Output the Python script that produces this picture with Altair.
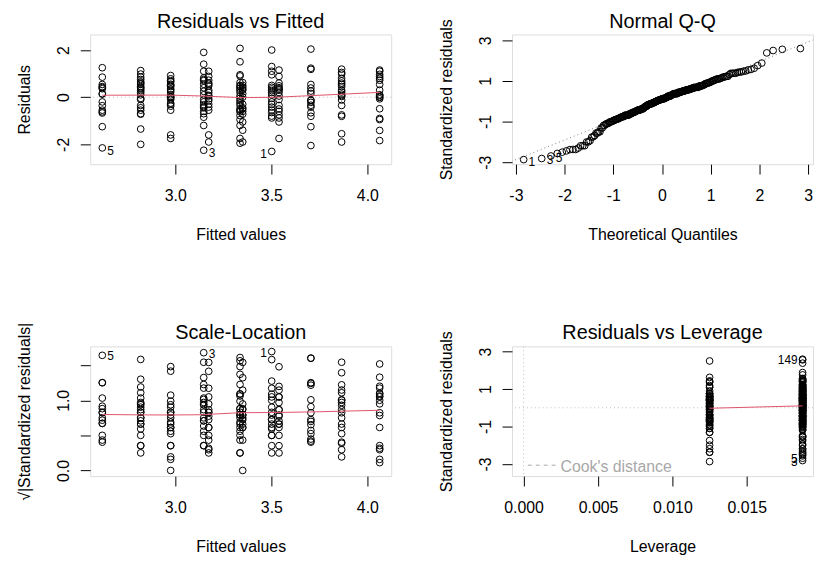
import altair as alt
import pandas as pd
import numpy as np

# ---- data (lm diagnostics) ----
fitted_levels = [2.62, 2.82, 2.976, 3.148, 3.174, 3.337, 3.351, 3.502, 3.54, 3.706, 3.866, 4.064]
leverage_levels = [0.01875, 0.01875, 0.01875, 0.01875, 0.0125, 0.01875,
                   0.0125, 0.0125, 0.0125, 0.01875, 0.01875, 0.01875]
resid_groups = [
    [1.25, 0.85, 0.54, 0.45, 0.41, 0.36, 0.15, 0.13, -0.2, -0.36, -0.55, -0.62, -0.67, -1.25, -2.15],
    [1.13, 0.98, 0.85, 0.75, 0.65, 0.6, 0.55, 0.45, 0.4, 0.35, 0.28, 0.2, 0.1, -0.05, -0.1, -0.35, -0.45, -0.55, -0.7, -0.72, -1.35, -2.0],
    [0.92, 0.78, 0.7, 0.65, 0.55, 0.5, 0.45, 0.35, 0.3, 0.22, 0.1, 0.03, 0.0, -0.02, -0.1, -0.25, -0.3, -0.38, -0.55, -1.6, -1.75],
    [1.9, 1.4, 1.1, 0.82, 0.75, 0.7, 0.55, 0.4, 0.25, 0.1, -0.1, -0.2, -0.32, -0.4, -0.45, -0.6, -0.7, -0.85, -1.2, -2.25],
    [1.1, 0.88, 0.72, 0.6, 0.55, 0.48, 0.3, 0.2, 0.08, 0.05, -0.07, -0.15, -0.3, -0.42, -0.55, -1.6, -1.9],
    [2.07, 1.5, 0.95, 0.9, 0.62, 0.5, 0.45, 0.38, 0.3, 0.2, 0.05, -0.05, -0.15, -0.25, -0.35, -0.5, -0.55, -0.62, -0.78, -0.95, -1.2, -1.75, -1.95],
    [0.62, 0.5, 0.42, 0.35, 0.3, 0.15, 0.0, -0.3, -0.45, -0.5, -0.6, -0.72, -1.05, -1.4, -1.9],
    [2.0, 1.3, 1.1, 0.95, 0.5, 0.42, 0.35, 0.28, 0.2, 0.1, -0.05, -0.2, -0.3, -0.42, -0.55, -0.65, -0.8, -0.88, -2.3],
    [1.15, 0.88, 0.6, 0.48, 0.4, 0.35, 0.3, 0.2, 0.05, -0.1, -0.35, -0.5, -0.6, -0.75, -0.88, -1.05, -1.75],
    [2.04, 1.23, 1.18, 0.54, 0.39, 0.26, 0.16, -0.13, -0.14, -0.22, -0.34, -0.42, -0.66, -0.81, -1.25, -2.05],
    [1.19, 1.05, 0.98, 0.8, 0.69, 0.6, 0.54, 0.45, 0.3, 0.22, 0.13, 0.07, 0.03, -0.12, -0.35, -0.75, -0.81, -1.55, -1.9],
    [1.15, 1.1, 0.97, 0.88, 0.8, 0.72, 0.54, 0.3, 0.1, 0.08, 0.02, -0.01, -0.07, -0.49, -0.9, -0.95, -1.41, -1.84],
]
# observation numbers shown as labels: (group, position) -> id
labeled_obs = {(0, 14): "5", (3, 19): "3", (7, 18): "1", (5, 0): "149"}
resid_label_ids = ["1", "3", "5"]       # largest |residual|
cook_label_ids = ["149", "5", "3"]      # largest Cook's distance
sigma = 0.805                           # residual standard error
panel_titles = ["Residuals vs Fitted", "Normal Q-Q", "Scale-Location", "Residuals vs Leverage"]

rows = []
for g, (fv, hv, rs) in enumerate(zip(fitted_levels, leverage_levels, resid_groups)):
    for k, r in enumerate(rs):
        rows.append(dict(fitted=fv, lev=hv, resid=r, obs=labeled_obs.get((g, k), "")))
df = pd.DataFrame(rows)
df["std"] = df["resid"] / (sigma * np.sqrt(1 - df["lev"]))
df["sqrtstd"] = np.sqrt(np.abs(df["std"]))
df["lab_resid"] = np.where(df["obs"].isin(resid_label_ids), df["obs"], "")
df["lab_cook"] = np.where(df["obs"].isin(cook_label_ids), df["obs"], "")
mid_fit = (df["fitted"].min() + df["fitted"].max()) / 2
mid_lev = (df["lev"].min() + df["lev"].max()) / 2
df["fit_right"] = df["fitted"] < mid_fit
df["lev_right"] = df["lev"] < mid_lev


def lowess(x, y, f=2 / 3, iters=3):
    """Robust locally weighted regression, as R's lowess() used by panel.smooth."""
    x = np.asarray(x, float)
    y = np.asarray(y, float)
    o = np.argsort(x, kind="stable")
    x, y = x[o], y[o]
    n = len(x)
    ns = max(min(int(round(f * n)), n), 2)
    rw = np.ones(n)
    fit = np.zeros(n)
    for it in range(iters + 1):
        for i in range(n):
            d = np.abs(x - x[i])
            h = np.sort(d)[ns - 1]
            h = max(h, 1e-12)
            u = np.clip(d / h, 0, 1)
            w = (1 - u ** 3) ** 3
            w[d > h] = 0
            w = w * rw
            sw = w.sum()
            xm = (w * x).sum() / sw
            ym = (w * y).sum() / sw
            b = (w * (x - xm) ** 2).sum()
            slope = (w * (x - xm) * (y - ym)).sum() / b if b > 1e-14 else 0.0
            fit[i] = ym + slope * (x[i] - xm)
        if it == iters:
            break
        res = y - fit
        s = np.median(np.abs(res))
        if s == 0:
            break
        u = np.clip(res / (6 * s), -1, 1)
        rw = (1 - u ** 2) ** 2
    out = pd.DataFrame({"x": x, "y": fit}).groupby("x", as_index=False)["y"].mean()
    return out


smooth1 = lowess(df["fitted"], df["resid"])
smooth3 = lowess(df["fitted"], df["sqrtstd"])
smooth4 = lowess(df["lev"], df["std"])

# qqline through the quartiles
q25, q75 = np.quantile(df["std"], [0.25, 0.75])
z75 = 0.6744897501960817
slope = (q75 - q25) / (2 * z75)
inter = q25 + slope * z75
qq_line = pd.DataFrame({"x": [-4.0, 4.0]})
qq_line["y"] = inter + slope * qq_line["x"]

FONT = "Liberation Sans"
RED = "#DF536B"
GRAY = "#BEBEBE"
W, H = 304, 131
PT = dict(shape="circle", filled=False, color="black", size=46, strokeWidth=1, opacity=1)


def title_mark(t):
    return alt.Chart(pd.DataFrame({"t": [t]})).mark_text(
        fontSize=20, font=FONT, color="black", align="center", baseline="alphabetic").encode(
        x=alt.value(W / 2), y=alt.value(-7), text="t:N")


def xax(title, values, expr):
    return alt.Axis(title=title, values=values, labelExpr=expr, domain=False, grid=False,
                    tickSize=10, tickColor="black", labelFontSize=16, titleFontSize=16,
                    labelColor="black", titleColor="black", titleFontWeight="normal",
                    labelPadding=14, labelBaseline="top", titleBaseline="alphabetic",
                    titleY=76, labelFont=FONT, titleFont=FONT, labelOverlap=False)


def yax(title, values, expr):
    return alt.Axis(title=title, values=values, labelExpr=expr, domain=False, grid=False,
                    tickSize=10, tickColor="black", labelFontSize=16, titleFontSize=16,
                    labelColor="black", titleColor="black", titleFontWeight="normal",
                    labelAngle=270, labelAlign="center", labelBaseline="alphabetic",
                    labelPadding=12, titleBaseline="alphabetic", titleX=-61, titleAngle=270,
                    labelFont=FONT, titleFont=FONT, labelOverlap=False)


base = alt.Chart(df)
fit_x = alt.X("fitted:Q", scale=alt.Scale(domain=[2.557, 4.124], nice=False, zero=False),
              axis=xax("Fitted values", [3.0, 3.5, 4.0], "format(datum.value, '.1f')"))

# ---- panel 1: Residuals vs Fitted ----
p1_pts = base.mark_point(**PT).encode(
    x=fit_x,
    y=alt.Y("resid:Q", scale=alt.Scale(domain=[-2.84, 2.66], nice=False, zero=False),
            axis=yax("Residuals", [-2, -1, 0, 1, 2], "datum.value == -1 ? '' : toString(datum.value)")))
p1_zero = alt.Chart(pd.DataFrame({"y": [0]})).mark_rule(color=GRAY, strokeDash=[1, 3]).encode(y="y:Q")
p1_smooth = alt.Chart(smooth1).mark_line(color=RED, strokeWidth=1).encode(x="x:Q", y="y:Q")
p1_lab_r = base.transform_filter("datum.lab_resid != '' && datum.fit_right").mark_text(
    align="left", baseline="middle", dx=5, dy=3, fontSize=12, font=FONT, color="black").encode(
    x="fitted:Q", y="resid:Q", text="lab_resid:N")
p1_lab_l = base.transform_filter("datum.lab_resid != '' && !datum.fit_right").mark_text(
    align="right", baseline="middle", dx=-5, dy=3, fontSize=12, font=FONT, color="black").encode(
    x="fitted:Q", y="resid:Q", text="lab_resid:N")
p1 = alt.layer(p1_zero, p1_pts, p1_smooth, p1_lab_r, p1_lab_l, title_mark(panel_titles[0])).properties(
    width=W, height=H)

# ---- panel 2: Normal Q-Q ----
qq_base = base.transform_window(rank="row_number()", sort=[alt.SortField("std")]).transform_joinaggregate(
    n="count()").transform_calculate(theo="quantileNormal((datum.rank - 0.5) / datum.n)")
qx = alt.X("theo:Q", scale=alt.Scale(domain=[-3.08, 3.1], nice=False, zero=False),
           axis=xax("Theoretical Quantiles", [-3, -2, -1, 0, 1, 2, 3], "toString(datum.value)"))
qy = alt.Y("std:Q", scale=alt.Scale(domain=[-3.1, 3.29], nice=False, zero=False),
           axis=yax("Standardized residuals", [-3, -2, -1, 0, 1, 2, 3],
                    "abs(datum.value) % 2 == 1 ? toString(datum.value) : ''"))
p2_pts = qq_base.mark_point(**PT).encode(x=qx, y=qy)
p2_line = alt.Chart(qq_line).mark_line(color="#808080", strokeDash=[1, 3], strokeWidth=1, clip=True).encode(
    x="x:Q", y="y:Q")
p2_lab = qq_base.transform_filter("datum.lab_resid != ''").mark_text(
    align="left", baseline="middle", dx=5, dy=2, fontSize=12, font=FONT, color="black").encode(
    x="theo:Q", y="std:Q", text="lab_resid:N")
p2 = alt.layer(p2_line, p2_pts, p2_lab, title_mark(panel_titles[1])).properties(width=W, height=H)

# ---- panel 3: Scale-Location ----
p3_pts = base.mark_point(**PT).encode(
    x=fit_x,
    y=alt.Y("sqrtstd:Q", scale=alt.Scale(domain=[-0.08, 1.77], nice=False, zero=False),
            axis=yax("√|Standardized residuals|", [0, 0.5, 1.0, 1.5],
                     "datum.value == 0 || datum.value == 1 ? format(datum.value, '.1f') : ''")))
p3_smooth = alt.Chart(smooth3).mark_line(color=RED, strokeWidth=1).encode(x="x:Q", y="y:Q")
p3_lab_r = base.transform_filter("datum.lab_resid != '' && datum.fit_right").mark_text(
    align="left", baseline="middle", dx=5, dy=1, fontSize=12, font=FONT, color="black").encode(
    x="fitted:Q", y="sqrtstd:Q", text="lab_resid:N")
p3_lab_l = base.transform_filter("datum.lab_resid != '' && !datum.fit_right").mark_text(
    align="right", baseline="middle", dx=-5, dy=1, fontSize=12, font=FONT, color="black").encode(
    x="fitted:Q", y="sqrtstd:Q", text="lab_resid:N")
p3 = alt.layer(p3_pts, p3_smooth, p3_lab_r, p3_lab_l, title_mark(panel_titles[2])).properties(
    width=W, height=H)

# ---- panel 4: Residuals vs Leverage ----
lx = alt.X("lev:Q", scale=alt.Scale(domain=[-0.00078, 0.01945], nice=False, zero=False),
           axis=xax("Leverage", [0, 0.005, 0.010, 0.015], "format(datum.value, '.3f')"))
ly = alt.Y("std:Q", scale=alt.Scale(domain=[-3.65, 3.28], nice=False, zero=False),
           axis=yax("Standardized residuals", [-3, -2, -1, 0, 1, 2, 3],
                    "abs(datum.value) % 2 == 1 ? toString(datum.value) : ''"))
p4_h = alt.Chart(pd.DataFrame({"y": [0]})).mark_rule(color=GRAY, strokeDash=[1, 3]).encode(y="y:Q")
p4_v = alt.Chart(pd.DataFrame({"x": [0]})).mark_rule(color=GRAY, strokeDash=[1, 3]).encode(x="x:Q")
p4_pts = base.mark_point(**PT).encode(x=lx, y=ly)
p4_smooth = alt.Chart(smooth4).mark_line(color=RED, strokeWidth=1).encode(x="x:Q", y="y:Q")
p4_lab = base.transform_filter("datum.lab_cook != ''").mark_text(
    align="right", baseline="middle", dx=-5, dy=1, fontSize=12, font=FONT, color="black").encode(
    x="lev:Q", y="std:Q", text="lab_cook:N")
legend_df = pd.DataFrame({"t": ["Cook's distance"]})
p4_leg_line = alt.Chart(legend_df).mark_rule(color="#A8A8A8", strokeDash=[4, 4], strokeWidth=1).encode(
    x=alt.value(16), x2=alt.value(46), y=alt.value(120))
p4_leg_text = alt.Chart(legend_df).mark_text(align="left", baseline="alphabetic", fontSize=16,
                                             font=FONT, color="#A8A8A8").encode(
    x=alt.value(49), y=alt.value(127), text="t:N")
p4 = alt.layer(p4_h, p4_v, p4_pts, p4_smooth, p4_lab, p4_leg_line, p4_leg_text,
               title_mark(panel_titles[3])).properties(width=W, height=H)

chart = alt.concat(p1, p2, p3, p4, columns=2, spacing={"row": 184, "column": 122},
                   bounds="flush").properties(
    padding={"left": 8, "top": 0, "right": 0, "bottom": 0}, background="white"
).configure_view(stroke="#222222", strokeWidth=1).configure(font=FONT)

chart.save("out.html", embed_options={"renderer": "svg", "actions": False})
